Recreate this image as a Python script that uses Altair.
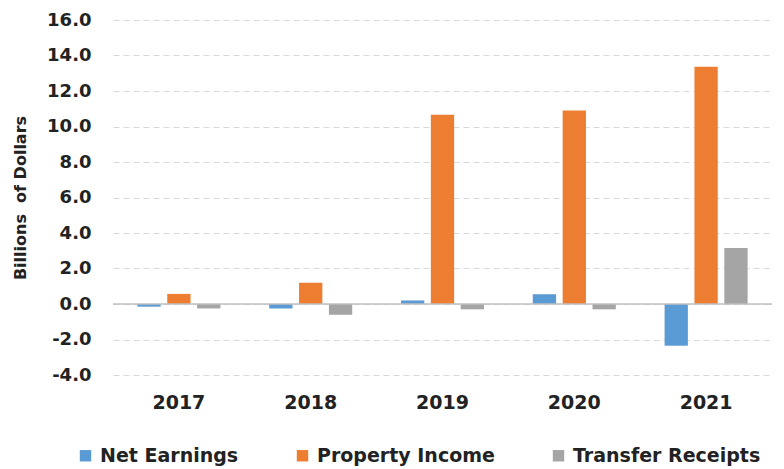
import altair as alt
import pandas as pd

years = ["2017", "2018", "2019", "2020", "2021"]
series = ["Net Earnings", "Property Income", "Transfer Receipts"]
net_earnings = [-0.15, -0.25, 0.2, 0.55, -2.35]
property_income = [0.57, 1.2, 10.66, 10.9, 13.37]
transfer_receipts = [-0.25, -0.6, -0.3, -0.3, 3.15]
colors = ["#5B9BD5", "#ED7D31", "#A5A5A5"]
y_ticks = [-4, -2, 0, 2, 4, 6, 8, 10, 12, 14, 16]

rows = []
for name, vals in zip(series, [net_earnings, property_income, transfer_receipts]):
    for yr, v in zip(years, vals):
        rows.append({"year": yr, "series": name, "value": v})
df = pd.DataFrame(rows)
zero_df = pd.DataFrame({"value": [0.0]})

FONT = "DejaVu Sans"

y_enc = alt.Y("value:Q", scale=alt.Scale(domain=[-4, 16], nice=False, zero=False),
              axis=alt.Axis(title="Billions\u00a0 of Dollars", values=y_ticks,
                            labelExpr="(datum.value < 0 ? '-' : '') + format(abs(datum.value), '.1f')",
                            labelOverlap=False, domain=False, ticks=False, grid=True,
                            gridDash=[6, 4], gridColor="#d9d9d9", labelFontSize=18,
                            labelFontWeight="bold", labelColor="#222222", labelFont=FONT,
                            labelPadding=22, titleFont=FONT, titleFontSize=16,
                            titleFontWeight="bold", titleColor="#222222", titlePadding=18))

bars = alt.Chart(df).mark_bar().encode(
    x=alt.X("year:N", sort=years,
            scale=alt.Scale(paddingInner=0.37, paddingOuter=0.185),
            axis=alt.Axis(title=None, labelAngle=0, domain=False, ticks=False,
                          labelFontSize=19, labelFontWeight="bold", labelPadding=18,
                          labelColor="#222222", labelFont=FONT)),
    xOffset=alt.XOffset("series:N", sort=series, scale=alt.Scale(paddingInner=0.22)),
    y=y_enc,
    color=alt.Color("series:N", sort=series,
                    scale=alt.Scale(domain=series, range=colors),
                    legend=alt.Legend(orient="none", direction="horizontal", title=None,
                                      legendX=-37, legendY=426,
                                      symbolType="square", symbolSize=130,
                                      symbolStrokeWidth=0, labelFontSize=19,
                                      labelFontWeight="bold", labelFont=FONT,
                                      labelColor="#222222", columnPadding=54,
                                      labelOffset=5, labelLimit=0)),
)

zero = alt.Chart(zero_df).mark_rule(color="#bfbfbf", strokeWidth=1.5).encode(y=y_enc)

chart = alt.layer(bars, zero).properties(
    width=659, height=355, background="white",
    padding={"left": 4, "top": 3, "right": 0, "bottom": 0},
).configure_view(stroke=None)

chart.save("out.html", embed_options={"renderer": "svg", "actions": False})
